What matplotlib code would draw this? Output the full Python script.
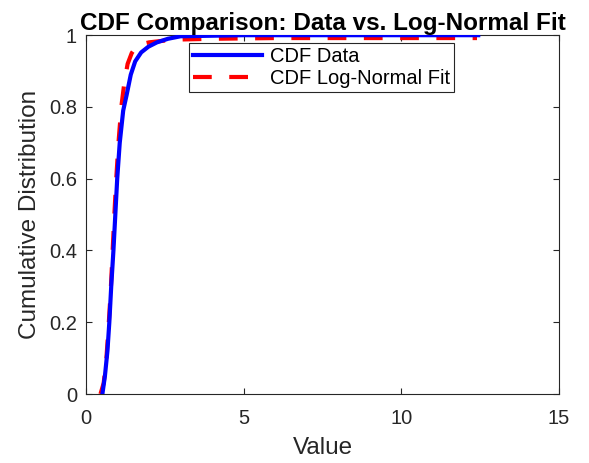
import numpy as np
import matplotlib.pyplot as plt

plt.rcParams['font.family'] = ['Liberation Sans', 'DejaVu Sans']

data_x = [0.52, 0.60, 0.68, 0.74, 0.80, 0.87, 0.93, 0.99, 1.07, 1.18, 1.29,
          1.42, 1.56, 1.75, 1.98, 2.25, 2.60, 3.00, 5.00, 8.00, 12.44]
data_y = [0.0, 0.05, 0.12, 0.20, 0.30, 0.40, 0.50, 0.60, 0.70, 0.79, 0.834,
          0.89, 0.927, 0.952, 0.968, 0.98, 0.99, 0.997, 1.0, 1.0, 1.0]

# log-normal fit CDF
fit_x = [0.46, 0.56, 0.64, 0.71, 0.78, 0.84, 0.90, 0.96, 1.03, 1.12, 1.22,
         1.32, 1.45, 1.62, 2.00, 2.50, 3.00, 4.00, 6.00, 9.00, 12.40]
fit_y = [0.0, 0.03, 0.09, 0.18, 0.28, 0.39, 0.50, 0.60, 0.70, 0.80, 0.87,
         0.92, 0.95, 0.972, 0.98, 0.985, 0.988, 0.99, 0.992, 0.992, 0.992]

fig = plt.figure(figsize=(5.89, 4.63), dpi=100)
ax = fig.add_axes([0.146, 0.149, 0.803, 0.775])

ax.plot(data_x, data_y, color='#0000ff', lw=3, label='CDF Data', zorder=3)
ax.plot(fit_x, fit_y, color='#ff0000', lw=3, dashes=(4.5, 4.2),
        label='CDF Log-Normal Fit', zorder=2)

ax.set_xlim(0, 15)
ax.set_ylim(0, 1)
ax.set_xticks([0, 5, 10, 15])
ax.set_yticks([0, 0.2, 0.4, 0.6, 0.8, 1])
ax.set_yticklabels(['0', '0.2', '0.4', '0.6', '0.8', '1'])
ax.tick_params(direction='in', length=4, labelsize=14.5, colors='#262626',
               top=True, right=True, labeltop=False, labelright=False)
ax.tick_params(axis='x', pad=11)
ax.tick_params(axis='y', pad=6.5)
for s in ax.spines.values():
    s.set_color('#262626')
    s.set_linewidth(0.8)

ax.set_xlabel('Value', fontsize=17.5, color='#262626', labelpad=6)
ax.set_ylabel('Cumulative Distribution', fontsize=17.5, color='#262626',
              labelpad=6)
ax.set_title('CDF Comparison: Data vs. Log-Normal Fit', fontsize=17.5,
             fontweight='bold', pad=4)

leg = ax.legend(loc='upper left', bbox_to_anchor=(0.218, 0.978), fontsize=14.5,
                fancybox=False, edgecolor='#262626', framealpha=1,
                handlelength=3.4, borderpad=0.2, labelspacing=0.15,
                handletextpad=0.4, borderaxespad=0)
leg.get_frame().set_linewidth(0.8)

fig.savefig('out.png', dpi=100)
